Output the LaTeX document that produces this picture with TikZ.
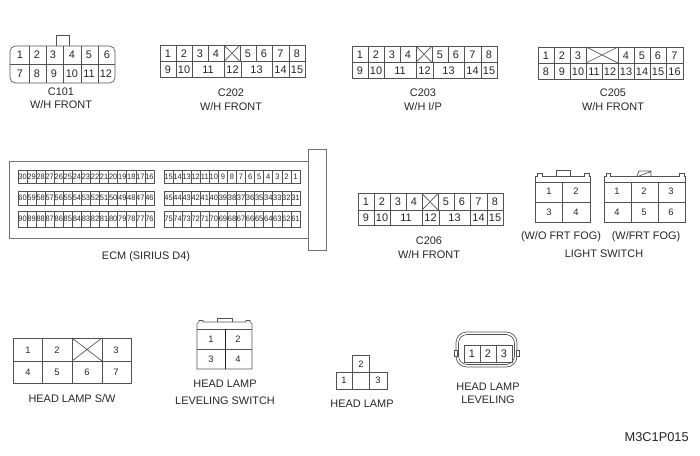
\documentclass[tikz,border=0pt]{standalone}
\usepackage{fontspec}
\setmainfont{Liberation Sans}
\tikzset{
  x=0.75pt,y=-0.75pt,
  wire/.style={draw=black!68,line width=0.5pt},
  darkwire/.style={draw=black!88,line width=0.55pt},
  softwire/.style={draw=black!55,line width=0.6pt},
  pinlab/.style={font=\fontsize{8.2pt}{9pt}\selectfont,inner sep=0pt,text=black!85},
  smallpin/.style={font=\fontsize{7pt}{8pt}\selectfont,inner sep=0pt,text=black!85},
  ecmlab/.style={font=\fontsize{5.9pt}{6pt}\selectfont,inner sep=0pt,text=black!85,xscale=0.95},
  lbl/.style={font=\fontsize{8.2pt}{10pt}\selectfont,inner sep=0pt,text=black!85},
  codelbl/.style={font=\fontsize{9.6pt}{11pt}\selectfont,inner sep=0pt,text=black!85},
}
% 15-way connector used by C202, C203, C206; origin = top-left
\newcommand{\fifteen}[3]{%
\begin{scope}[shift={(#1,#2)},name prefix=#3-]
  \draw[wire] (0,0) rectangle (145,32);
  \draw[wire] (0,16.5) -- (145,16.5);
  \foreach \x in {16,32,48,64,80,96,112,129} \draw[wire] (\x,0) -- (\x,16.5);
  \foreach \x in {16,32,64,81,112,129} \draw[wire] (\x,16.5) -- (\x,32);
  \draw[wire] (64,0) -- (80,16.5) (80,0) -- (64,16.5);
  \foreach \n/\x in {1/8,2/24,3/40,4/56,5/88,6/104,7/120.5,8/137}
    \node[pinlab] (t\n) at (\x,8.5) {\n};
  \foreach \n/\x in {9/8,10/24,11/48,12/72.5,13/96.5,14/120.5,15/137}
    \node[pinlab] (b\n) at (\x,24.5) {\n};
\end{scope}}
% one row of ECM pins: x0, y0, y1, first number
\newcommand{\ecmrow}[4]{%
  \draw[wire] (#1,#2) rectangle ({#1+136},#3);
  \foreach \k in {1,...,14} \draw[wire] ({#1+\k*136/15},#2) -- ({#1+\k*136/15},#3);
  \foreach \k in {0,...,14}{
    \pgfmathtruncatemacro{\num}{#4-\k}
    \node[ecmlab] (e\num) at ({#1+(\k+0.5)*136/15},{(#2+#3)/2}) {\num};
  }}
\begin{document}
\begin{tikzpicture}
\useasboundingbox (0,0) rectangle (700,456);
% C101
\draw[wire] (56,46) -- (56,35) -- (69,35) -- (69,46);
\draw[wire,rounded corners=4pt] (10,46) rectangle (115,83);
\draw[wire] (10,64) -- (115,64);
\foreach \x in {29,46,63,81,98} \draw[wire] (\x,46) -- (\x,83);
\foreach \n/\x in {1/20,2/37,3/53,4/72,5/89,6/107} \node[pinlab] (a\n) at (\x,55) {\n};
\foreach \n/\x in {7/20,8/37,9/54,10/72,11/89,12/106} \node[pinlab] (a\n) at (\x,73.5) {\n};
\node[lbl] (c101) at (61,92) {C101};
\node[lbl] (c101b) at (61,105) {W/H FRONT};
% C202, C203, C206
\fifteen{160}{45}{p}
\node[lbl] (c202) at (231,93) {C202};
\node[lbl] (c202b) at (231,107) {W/H FRONT};
\fifteen{352}{46}{q}
\node[lbl] (c203) at (423,93) {C203};
\node[lbl] (c203b) at (423,107) {W/H I/P};
\fifteen{358}{193.5}{r}
\node[lbl] (c206) at (429,241) {C206};
\node[lbl] (c206b) at (429,255) {W/H FRONT};
% C205
\draw[wire] (538,47) rectangle (683,79);
\draw[wire] (538,63) -- (683,63);
\foreach \x in {554,570,586,618,634,650,666} \draw[wire] (\x,47) -- (\x,63);
\foreach \x in {554,570,586,602,618,634,650,666} \draw[wire] (\x,63) -- (\x,79);
\draw[wire] (586,47) -- (618,63) (618,47) -- (586,63);
\foreach \n/\x in {1/546,2/562,3/578,4/626,5/642,6/658,7/674.5} \node[pinlab] (s\n) at (\x,55.5) {\n};
\foreach \n/\x in {8/546,9/562,10/578,11/594,12/610,13/626,14/642,15/658,16/674.5} \node[pinlab] (s\n) at (\x,71.5) {\n};
\node[lbl] (c205) at (613,93) {C205};
\node[lbl] (c205b) at (613,107) {W/H FRONT};
% ECM
\draw[softwire] (308,161) -- (9,161) -- (9,238) -- (308,238);
\draw[softwire] (308,149) rectangle (326,250);
\ecmrow{18}{170}{183}{30}
\ecmrow{18}{191}{205}{60}
\ecmrow{18}{211}{227}{90}
\ecmrow{164}{170}{183}{15}
\ecmrow{164}{191}{205}{45}
\ecmrow{164}{211}{227}{75}
\node[lbl] (ecm) at (146,257) {ECM (SIRIUS D4)};
% Light switch, without fog
\draw[wire] (556,176) -- (556,170) -- (570,170) -- (570,176);
\draw[wire] (535,222) -- (535,176) -- (537,176) -- (537,173.5) -- (542,173.5) -- (542,176) -- (584,176) -- (584,173.5) -- (589,173.5) -- (589,176) -- (590,176) -- (590,222) -- cycle;
\draw[wire] (535,182) -- (590,182) (535,202) -- (590,202) (562,182) -- (562,222);
\foreach \n/\x/\y in {1/549/191,2/576/191,3/549/212,4/576/212} \node[smallpin] (l\n) at (\x,\y) {\n};
% Light switch, with fog
\draw[wire] (637,176) -- (639,171) -- (651,171) -- (651,176) (639,176) -- (651,171.5);
\draw[wire] (604,222) -- (604,176) -- (606,176) -- (606,173.5) -- (610,173.5) -- (610,176) -- (679,176) -- (679,173.5) -- (684,173.5) -- (684,176) -- (685,176) -- (685,222) -- cycle;
\draw[wire] (604,182) -- (685,182) (604,202) -- (685,202) (631,182) -- (631,222) (658,182) -- (658,222);
\foreach \n/\x/\y in {1/617/191.5,2/644/191.5,3/671/191.5,4/617/212,5/644/212,6/671/212} \node[smallpin] (m\n) at (\x,\y) {\n};
\node[lbl] (wo) at (561,237) {(W/O FRT FOG)};
\node[lbl] (wf) at (646,237) {(W/FRT FOG)};
\node[lbl] (ls) at (604,254) {LIGHT SWITCH};
% Head lamp S/W
\draw[wire] (13,338) rectangle (131,383);
\draw[wire] (13,361) -- (131,361);
\foreach \x in {42,72,102} \draw[wire] (\x,338) -- (\x,383);
\draw[wire] (72,338) -- (102,361) (102,338) -- (72,361);
\foreach \n/\x in {1/28,2/57,3/116} \node[smallpin] (h\n) at (\x,350) {\n};
\foreach \n/\x in {4/28,5/57,6/87,7/116} \node[smallpin] (h\n) at (\x,372) {\n};
\node[lbl] (hs) at (72,399) {HEAD LAMP S/W};
% Head lamp leveling switch
\draw[wire] (217,322) -- (217,318) -- (232,318) -- (232,322);
\draw[wire] (197,369) -- (197,324) -- (199,322) -- (199,320.5) -- (203,320.5) -- (203,322) -- (246,322) -- (246,320.5) -- (250,320.5) -- (250,322) -- (252,324) -- (252,369) -- cycle;
\draw[wire] (197,329) -- (252,329) (197,349) -- (252,349);
\draw[darkwire] (225,329) -- (225,369);
\foreach \n/\x/\y in {1/211/339,2/238/339,3/211/359.5,4/238/359.5} \node[smallpin] (v\n) at (\x,\y) {\n};
\node[lbl] (vs1) at (225,384) {HEAD LAMP};
\node[lbl] (vs2) at (225,401) {LEVELING SWITCH};
% Head lamp
\draw[wire] (352,372) -- (352,355) -- (369,355) -- (369,372);
\draw[wire] (336,372) rectangle (387,389);
\draw[wire] (352,372) -- (352,389) (369,372) -- (369,389);
\node[smallpin] (k2) at (361,364) {2};
\node[smallpin] (k1) at (344,380.5) {1};
\node[smallpin] (k3) at (378,380.5) {3};
\node[lbl] (hl) at (362,404) {HEAD LAMP};
% Head lamp leveling
\draw[wire,rounded corners=8pt] (456,332) rectangle (517,367);
\draw[wire,rounded corners=6.5pt] (458.5,334.5) rectangle (514.5,364.5);
\draw[wire,fill=white] (454,350) rectangle (457,356);
\draw[wire,fill=white] (516,350) rectangle (519,356);
\draw[wire] (464,345) rectangle (512,362);
\draw[wire] (480,345) -- (480,362) (496,345) -- (496,362);
\foreach \n/\x in {1/472,2/488,3/504} \node[pinlab] (g\n) at (\x,353.5) {\n};
\node[lbl] (gl1) at (488,387) {HEAD LAMP};
\node[lbl] (gl2) at (488,400) {LEVELING};
% Figure code
\node[codelbl,anchor=east] (code) at (689,437) {M3C1P015};
\end{tikzpicture}
\end{document}
